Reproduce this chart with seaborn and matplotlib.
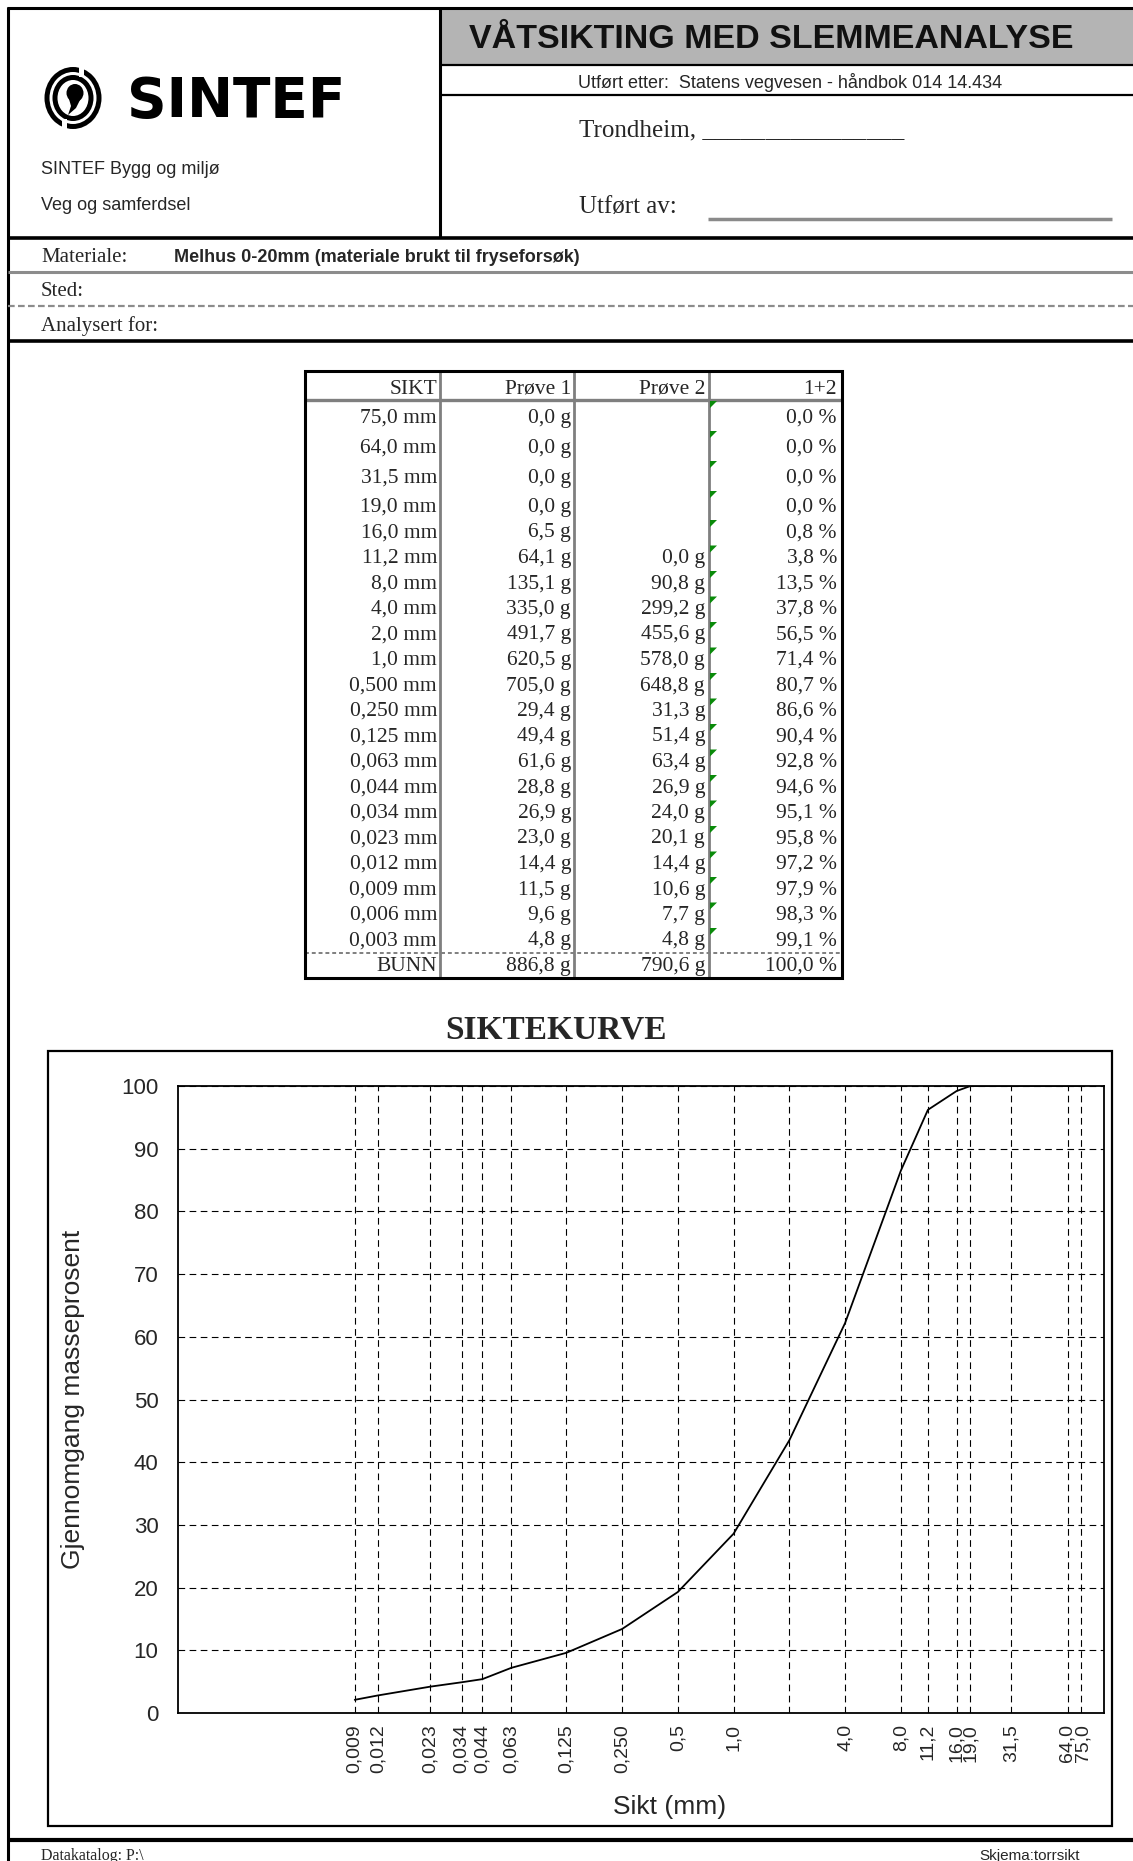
import matplotlib
matplotlib.use("Agg")
import matplotlib.pyplot as plt
import matplotlib.transforms as mtransforms
import seaborn as sns
import pandas as pd
from matplotlib.patches import Rectangle, Ellipse, Polygon
from matplotlib.ticker import NullLocator

# ---------------- data ----------------
sieve_mm = [75.0, 64.0, 31.5, 19.0, 16.0, 11.2, 8.0, 4.0, 2.0, 1.0, 0.5, 0.25,
            0.125, 0.063, 0.044, 0.034, 0.023, 0.012, 0.009, 0.006, 0.003]
sikt_labels = ["75,0 mm", "64,0 mm", "31,5 mm", "19,0 mm", "16,0 mm", "11,2 mm",
               "8,0 mm", "4,0 mm", "2,0 mm", "1,0 mm", "0,500 mm", "0,250 mm",
               "0,125 mm", "0,063 mm", "0,044 mm", "0,034 mm", "0,023 mm",
               "0,012 mm", "0,009 mm", "0,006 mm", "0,003 mm"]
prove1_g = [0.0, 0.0, 0.0, 0.0, 6.5, 64.1, 135.1, 335.0, 491.7, 620.5, 705.0,
            29.4, 49.4, 61.6, 28.8, 26.9, 23.0, 14.4, 11.5, 9.6, 4.8]
prove2_g = [None, None, None, None, None, 0.0, 90.8, 299.2, 455.6, 578.0, 648.8,
            31.3, 51.4, 63.4, 26.9, 24.0, 20.1, 14.4, 10.6, 7.7, 4.8]
retained_pct = [0.0, 0.0, 0.0, 0.0, 0.8, 3.8, 13.5, 37.8, 56.5, 71.4, 80.7,
                86.6, 90.4, 92.8, 94.6, 95.1, 95.8, 97.2, 97.9, 98.3, 99.1]
bunn_label = "BUNN"
bunn_prove1 = 886.8
bunn_prove2 = 790.6
bunn_pct = 100.0
table_headers = ["SIKT", "Prøve 1", "Prøve 2", "1+2"]

chart_ticks = [0.009, 0.012, 0.023, 0.034, 0.044, 0.063, 0.125, 0.25, 0.5, 1.0,
               2.0, 4.0, 8.0, 11.2, 16.0, 19.0, 31.5, 64.0, 75.0]
chart_tick_labels = ["0,009", "0,012", "0,023", "0,034", "0,044", "0,063",
                     "0,125", "0,250", "0,5", "1,0", "", "4,0", "8,0", "11,2",
                     "16,0", "19,0", "31,5", "64,0", "75,0"]
y_ticks = [0, 10, 20, 30, 40, 50, 60, 70, 80, 90, 100]

# ---------------- setup ----------------
sns.set_theme(style="white")
SANS = ['Liberation Sans', 'DejaVu Sans']
SERIF = ['Liberation Serif', 'DejaVu Serif']
plt.rcParams['font.family'] = SANS

W, H = 1133, 1861
fig = plt.figure(figsize=(W / 100, H / 100), dpi=100)
fig.patch.set_facecolor('white')
ov = fig.add_axes([0, 0, 1, 1], zorder=0)
ov.set_xlim(0, W)
ov.set_ylim(H, 0)
ov.axis('off')


def hline(y, x0, x1, color='black', lw=2.0, ls='-'):
    ov.plot([x0, x1], [y, y], color=color, lw=lw, ls=ls, solid_capstyle='butt')


def vline(x, y0, y1, color='black', lw=2.0, ls='-'):
    ov.plot([x, x], [y0, y1], color=color, lw=lw, ls=ls, solid_capstyle='butt')


# ---------------- page frame & header ----------------
vline(8, 7, H, lw=2.2)
hline(8, 7, W, lw=2.2)

ov.add_patch(Rectangle((441, 9), W - 441, 56, facecolor='#b4b4b4', edgecolor='none'))
ov.text(771, 40, "VÅTSIKTING MED SLEMMEANALYSE", family=SANS, fontsize=24.5,
        fontweight='bold', ha='center', va='center', color='#111111')
hline(65, 440, W, lw=1.6)
ov.text(790, 83, "Utført etter:  Statens vegvesen - håndbok 014 14.434",
        family=SANS, fontsize=13, ha='center', va='center')
hline(95, 440, W, lw=1.6)
ov.text(579, 130, "Trondheim, ________________", family=SERIF, fontsize=18,
        ha='left', va='center')
ov.text(579, 207, "Utført av:", family=SERIF, fontsize=18, ha='left', va='center')
hline(219, 708, 1112, color='#8a8a8a', lw=2.5)
vline(440, 8, 238, lw=2.2)
hline(238, 7, W, lw=2.6)

# logo
cx, cy = 73, 98
ov.add_patch(Ellipse((cx, cy), 57, 62, facecolor='black', edgecolor='none'))
ov.add_patch(Ellipse((cx, cy), 47, 52, facecolor='white', edgecolor='none'))
ov.add_patch(Ellipse((cx, cy), 41, 46, facecolor='black', edgecolor='none'))
ov.add_patch(Ellipse((cx, cy), 31, 36, facecolor='white', edgecolor='none'))
ov.add_patch(Rectangle((cx + 6, cy - 33), 5, 12, facecolor='white', edgecolor='none'))
ov.add_patch(Rectangle((cx - 11, cy + 21), 5, 12, facecolor='white', edgecolor='none'))
ov.add_patch(Ellipse((cx + 2, cy - 5), 17, 18, facecolor='black', edgecolor='none'))
ov.add_patch(Polygon([(cx + 9, cy - 2), (cx + 3, cy + 10), (cx - 5, cy + 17),
                      (cx - 2, cy + 8), (cx - 4, cy + 1)],
                     closed=True, facecolor='black', edgecolor='none'))
ov.text(127, 102, "SINTEF", family=['DejaVu Sans'], fontsize=39.5, fontweight='bold',
        ha='left', va='center', color='black')
ov.text(41, 170, "SINTEF Bygg og miljø", family=SANS, fontsize=13, ha='left', va='center')
ov.text(41, 206, "Veg og samferdsel", family=SANS, fontsize=13, ha='left', va='center')

# info rows
ov.text(41, 258, "Materiale:", family=SERIF, fontsize=15, ha='left', va='center')
ov.text(174, 258, "Melhus 0-20mm (materiale brukt til fryseforsøk)", family=SANS,
        fontsize=13, fontweight='bold', ha='left', va='center')
hline(272, 8, W, color='#8c8c8c', lw=2.2)
ov.text(41, 292, "Sted:", family=SERIF, fontsize=15, ha='left', va='center')
hline(306, 8, W, color='#8c8c8c', lw=1.6, ls=(0, (3, 1.5)))
ov.text(41, 326, "Analysert for:", family=SERIF, fontsize=15, ha='left', va='center')
hline(341, 7, W, lw=2.6)

# ---------------- table ----------------
t_left, t_right, t_top, t_bottom = 305, 842, 371, 978
col_div = [440, 574, 709]
col_right = [437, 571, 705, 837]
header_bottom = 400
row_heights = [30, 30, 30, 29] + [25.5] * 17
FS_T = 15.5

ov.add_patch(Rectangle((t_left, t_top), t_right - t_left, t_bottom - t_top,
                       facecolor='none', edgecolor='black', lw=2.2, zorder=3))
for xd in col_div:
    vline(xd, t_top, t_bottom, color='#7f7f7f', lw=2.0)
hline(header_bottom, t_left, t_right, color='#7f7f7f', lw=2.4)

for xr, txt in zip(col_right, table_headers):
    ov.text(xr, header_bottom - 6, txt, family=SERIF, fontsize=FS_T, ha='right', va='baseline')


def fmt(v, unit):
    return f"{v:.1f}".replace('.', ',') + unit


y = header_bottom
for lab, p1, p2, pct, rh in zip(sikt_labels, prove1_g, prove2_g, retained_pct, row_heights):
    yb = y + rh - 7
    ov.text(col_right[0], yb, lab, family=SERIF, fontsize=FS_T, ha='right', va='baseline')
    ov.text(col_right[1], yb, fmt(p1, " g"), family=SERIF, fontsize=FS_T, ha='right', va='baseline')
    if p2 is not None:
        ov.text(col_right[2], yb, fmt(p2, " g"), family=SERIF, fontsize=FS_T, ha='right', va='baseline')
    ov.text(col_right[3], yb, fmt(pct, " %"), family=SERIF, fontsize=FS_T, ha='right', va='baseline')
    ov.add_patch(Polygon([(710, y + 1), (717, y + 1), (710, y + 8)], closed=True,
                         facecolor='#0a8a0a', edgecolor='none', zorder=4))
    y += rh

hline(y, t_left, t_right, color='#7f7f7f', lw=1.4, ls=(0, (2, 1.5)))
yb = t_bottom - 7
ov.text(col_right[0], yb, bunn_label, family=SERIF, fontsize=FS_T, ha='right', va='baseline')
ov.text(col_right[1], yb, fmt(bunn_prove1, " g"), family=SERIF, fontsize=FS_T, ha='right', va='baseline')
ov.text(col_right[2], yb, fmt(bunn_prove2, " g"), family=SERIF, fontsize=FS_T, ha='right', va='baseline')
ov.text(col_right[3], yb, fmt(bunn_pct, " %"), family=SERIF, fontsize=FS_T, ha='right', va='baseline')

# ---------------- chart ----------------
ov.text(556, 1030, "SIKTEKURVE", family=SERIF, fontsize=24, fontweight='bold',
        ha='center', va='center')
ov.add_patch(Rectangle((48, 1051), 1112 - 48, 1826 - 1051, facecolor='white',
                       edgecolor='black', lw=1.6))

ax_l, ax_r, ax_t, ax_b = 178, 1104, 1086, 1713
ax = fig.add_axes([ax_l / W, 1 - ax_b / H, (ax_r - ax_l) / W, (ax_b - ax_t) / H], zorder=2)
ax.set_facecolor('white')

df = pd.DataFrame({'sikt': sieve_mm, 'retained': retained_pct})
df['passing'] = 100.0 - df['retained']
plot_df = df[df['sikt'] >= min(chart_ticks)]

ax.set_xscale('log')
sns.lineplot(data=plot_df, x='sikt', y='passing', ax=ax, color='black', lw=1.3,
             estimator=None, sort=True)
ax.set_xlim(0.001, 100)
ax.set_ylim(0, 100)
ax.set_xticks(chart_ticks)
ax.set_xticklabels(chart_tick_labels, rotation=90, family=SANS, fontsize=14)
ax.xaxis.set_minor_locator(NullLocator())
ax.set_yticks(y_ticks)
ax.set_yticklabels([str(v) for v in y_ticks], family=SANS, fontsize=16)
ax.tick_params(axis='both', length=0)
ax.tick_params(axis='y', pad=14)
ax.tick_params(axis='x', pad=8)

# small horizontal nudges so the tightly spaced labels sit side by side
nudges_px = {"64,0": -1.5, "75,0": 2.0, "16,0": -0.5, "19,0": 0.5}
for lbl in ax.get_xticklabels():
    dx = nudges_px.get(lbl.get_text(), 0.0)
    if dx:
        lbl.set_transform(lbl.get_transform() +
                          mtransforms.ScaledTranslation(dx / 100, 0, fig.dpi_scale_trans))

ax.grid(True, which='major', color='black', lw=0.8, ls=(0, (6, 4)))
for sp in ax.spines.values():
    sp.set_visible(True)
    sp.set_color('black')
    sp.set_linewidth(1.3)
ax.set_ylabel("Gjennomgang masseprosent", family=SANS, fontsize=19, va='center')
ax.yaxis.set_label_coords((73 - ax_l) / (ax_r - ax_l), 0.5)
ax.set_xlabel("Sikt (mm)", family=SANS, fontsize=19, va='center')
ax.xaxis.set_label_coords((670 - ax_l) / (ax_r - ax_l), (ax_b - 1807) / (ax_b - ax_t))

# ---------------- footer ----------------
hline(1840, 7, W, lw=3.0)
ov.text(41, 1856, "Datakatalog: P:\\", family=SERIF, fontsize=11.5, ha='left', va='center')
ov.text(1080, 1856, "Skjema:torrsikt", family=SANS, fontsize=11, ha='right', va='center')

fig.savefig("out.png", dpi=100, facecolor='white')
